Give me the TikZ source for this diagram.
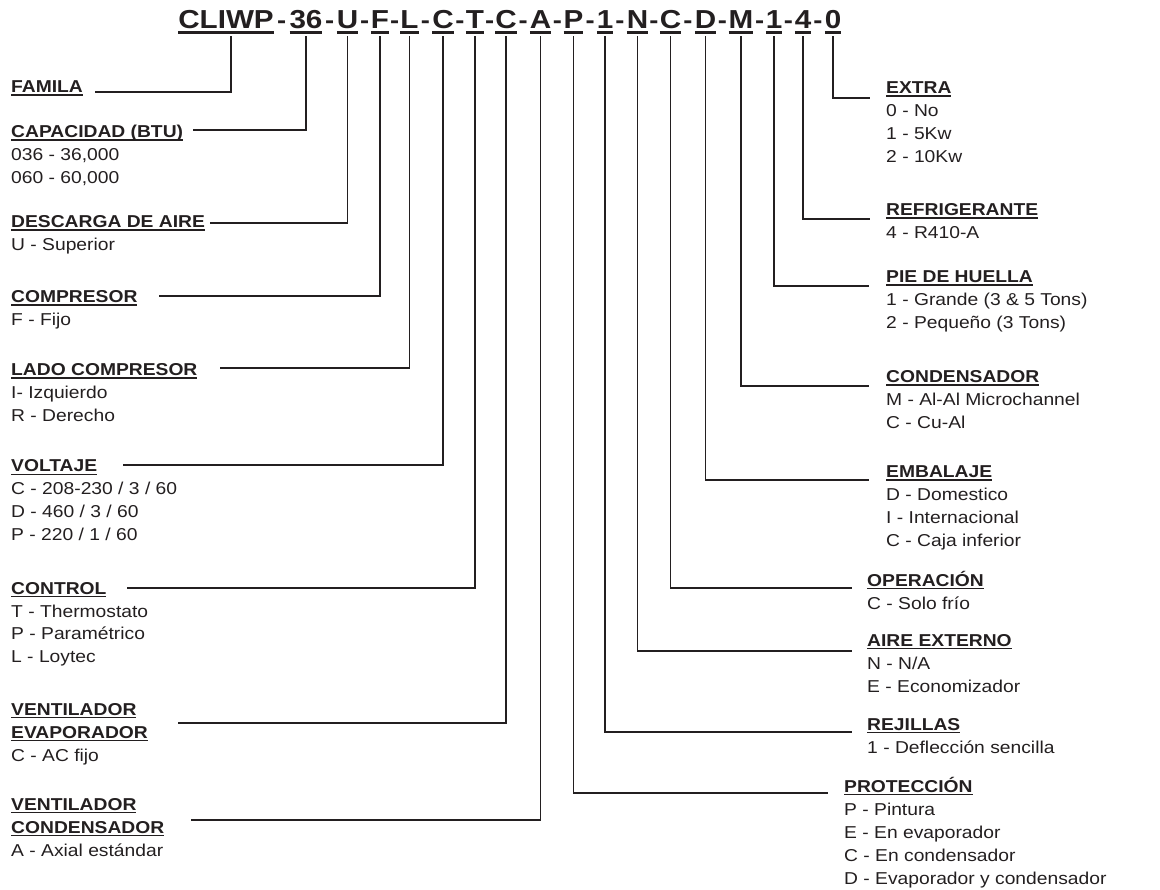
\documentclass[tikz,border=0pt]{standalone}
\usepackage{fontspec}
\setmainfont{Liberation Sans}[FakeStretch=1.12]
\newfontfamily\codefont{Liberation Sans}[FakeStretch=1.14]
\usetikzlibrary{calc}
\definecolor{ink}{HTML}{231F20}

% underlined heading and code part
\newcommand\hd[1]{\textbf{\setbox0\hbox{#1}\rlap{\rule[-3pt]{\wd0}{1.5pt}}\box0}}
\newcommand\cul[1]{{\setbox0\hbox{#1}\rlap{\rule[-4.7pt]{\wd0}{2.3pt}}\box0}}
\newcommand\opts[1]{\begin{tabular}[t]{@{}l@{}}#1\end{tabular}}

\tikzset{
  codeseg/.style={inner sep=0pt, anchor=base, text=ink,
    font=\codefont\fontsize{26}{30}\selectfont\bfseries},
  codedash/.style={codeseg, font=\codefont\fontsize{24}{30}\selectfont\bfseries},
  lbl/.style={inner sep=0pt, anchor=base west, text=ink,
    font=\fontsize{17.2}{23}\selectfont},
  wire/.style={draw=ink, line width=1.8pt}
}

\begin{document}
\begin{tikzpicture}[x=1pt,y=-1pt]
  \useasboundingbox (0,0) rectangle (1160,890);

  % model code
  \node[codeseg] (c1) at (226,29) {\cul{CLIWP}};
  \node[codeseg] (c2) at (306,29) {\cul{36}};
  \node[codeseg] (c3) at (347.5,29) {\cul{U}};
  \node[codeseg] (c4) at (380,29) {\cul{F}};
  \node[codeseg] (c5) at (409.5,29) {\cul{L}};
  \node[codeseg] (c6) at (443,29) {\cul{C}};
  \node[codeseg] (c7) at (475,29) {\cul{T}};
  \node[codeseg] (c8) at (506,29) {\cul{C}};
  \node[codeseg] (c9) at (540.5,29) {\cul{A}};
  \node[codeseg] (c10) at (573.5,29) {\cul{P}};
  \node[codeseg] (c11) at (605,29) {\cul{1}};
  \node[codeseg] (c12) at (637.5,29) {\cul{N}};
  \node[codeseg] (c13) at (670.5,29) {\cul{C}};
  \node[codeseg] (c14) at (705.5,29) {\cul{D}};
  \node[codeseg] (c15) at (741,29) {\cul{M}};
  \node[codeseg] (c16) at (774,29) {\cul{1}};
  \node[codeseg] (c17) at (803,29) {\cul{4}};
  \node[codeseg] (c18) at (833,29) {\cul{0}};
  \foreach \i [evaluate=\i as \j using int(\i+1)] in {1,...,17}
    \node[codedash] (d\i) at ($(c\i.base east)!.5!(c\j.base west)$) {-};

  % left labels
  \node[lbl] (famH) at (11,93) {\opts{\hd{FAMILA}}};
  \node[lbl] (capH) at (11,138) {\opts{\hd{CAPACIDAD (BTU)}\\036 - 36,000\\060 - 60,000}};
  \node[lbl] (desH) at (11,228) {\opts{\hd{DESCARGA DE AIRE}\\U - Superior}};
  \node[lbl] (compH) at (11,303) {\opts{\hd{COMPRESOR}\\F - Fijo}};
  \node[lbl] (ladoH) at (11,376) {\opts{\hd{LADO COMPRESOR}\\I- Izquierdo\\R - Derecho}};
  \node[lbl] (voltH) at (11,472) {\opts{\hd{VOLTAJE}\\C - 208-230 / 3 / 60\\D - 460 / 3 / 60\\P - 220 / 1 / 60}};
  \node[lbl] (ctrlH) at (11,594) {\opts{\hd{CONTROL}\\T - Thermostato\\P - Paramétrico\\L - Loytec}};
  \node[lbl] (evapH) at (11,715) {\opts{\hd{VENTILADOR}\\\hd{EVAPORADOR}\\C - AC fijo}};
  \node[lbl] (condH) at (11,810) {\opts{\hd{VENTILADOR}\\\hd{CONDENSADOR}\\A - Axial estándar}};

  % right labels
  \node[lbl] (extH) at (886,94) {\opts{\hd{EXTRA}\\0 - No\\1 - 5Kw\\2 - 10Kw}};
  \node[lbl] (refH) at (886,216) {\opts{\hd{REFRIGERANTE}\\4 - R410-A}};
  \node[lbl] (pieH) at (886,283) {\opts{\hd{PIE DE HUELLA}\\1 - Grande (3 \& 5 Tons)\\2 - Pequeño (3 Tons)}};
  \node[lbl] (cndH) at (886,383) {\opts{\hd{CONDENSADOR}\\M - Al-Al Microchannel\\C - Cu-Al}};
  \node[lbl] (embH) at (886,478) {\opts{\hd{EMBALAJE}\\D - Domestico\\I - Internacional\\C - Caja inferior}};
  \node[lbl] (opeH) at (867,586) {\opts{\hd{OPERACIÓN}\\C - Solo frío}};
  \node[lbl] (aireH) at (867,646) {\opts{\hd{AIRE EXTERNO}\\N - N/A\\E - Economizador}};
  \node[lbl] (rejH) at (867,730) {\opts{\hd{REJILLAS}\\1 - Deflección sencilla}};
  \node[lbl] (proH) at (844,792) {\opts{\hd{PROTECCIÓN}\\P - Pintura\\E - En evaporador\\C - En condensador\\D - Evaporador y condensador}};

  % line ends
  \coordinate (famE) at (95,92);
  \coordinate (capE) at (193,130);
  \coordinate (desE) at (210,223);
  \coordinate (compE) at (159,296);
  \coordinate (ladoE) at (220,368);
  \coordinate (voltE) at (123,465);
  \coordinate (ctrlE) at (127,588);
  \coordinate (evapE) at (178,723);
  \coordinate (condE) at (191,820);
  \coordinate (extE) at (870,98);
  \coordinate (refE) at (870,219);
  \coordinate (pieE) at (869,286);
  \coordinate (cndE) at (869,386);
  \coordinate (embE) at (869,480);
  \coordinate (opeE) at (852,588);
  \coordinate (aireE) at (852,651);
  \coordinate (rejE) at (852,732);
  \coordinate (proE) at (828,793);

  % connectors
  \draw[wire] ([xshift=5pt,yshift=-2.5pt]c1.south) |- (famE);
  \draw[wire] ([yshift=-2.5pt]c2.south) |- (capE);
  \draw[wire] ([yshift=-2.5pt]c3.south) |- (desE);
  \draw[wire] ([yshift=-2.5pt]c4.south) |- (compE);
  \draw[wire] ([yshift=-2.5pt]c5.south) |- (ladoE);
  \draw[wire] ([yshift=-2.5pt]c6.south) |- (voltE);
  \draw[wire] ([yshift=-2.5pt]c7.south) |- (ctrlE);
  \draw[wire] ([yshift=-2.5pt]c8.south) |- (evapE);
  \draw[wire] ([yshift=-2.5pt]c9.south) |- (condE);
  \draw[wire] ([yshift=-2.5pt]c10.south) |- (proE);
  \draw[wire] ([yshift=-2.5pt]c11.south) |- (rejE);
  \draw[wire] ([yshift=-2.5pt]c12.south) |- (aireE);
  \draw[wire] ([yshift=-2.5pt]c13.south) |- (opeE);
  \draw[wire] ([yshift=-2.5pt]c14.south) |- (embE);
  \draw[wire] ([yshift=-2.5pt]c15.south) |- (cndE);
  \draw[wire] ([yshift=-2.5pt]c16.south) |- (pieE);
  \draw[wire] ([yshift=-2.5pt]c17.south) |- (refE);
  \draw[wire] ([yshift=-2.5pt]c18.south) |- (extE);
\end{tikzpicture}
\end{document}
